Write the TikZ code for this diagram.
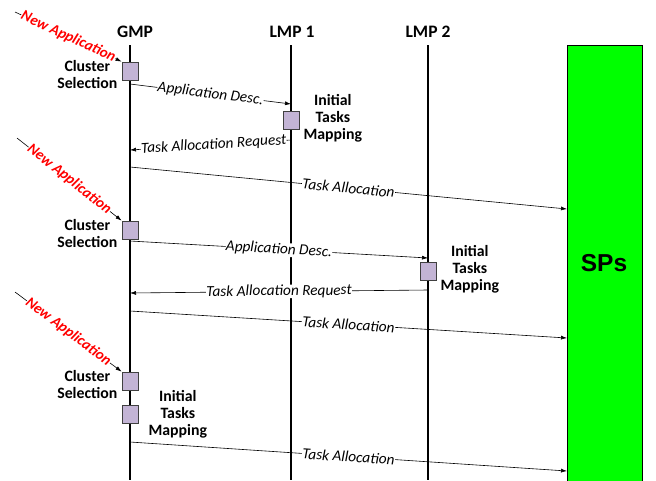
\documentclass[tikz,border=0pt]{standalone}
\usepackage{fontspec}
\setmainfont{Carlito}
\newfontfamily\arialfont{Liberation Sans}
\usetikzlibrary{arrows.meta,positioning}
\definecolor{taskviolet}{HTML}{C3B4D5}
\definecolor{spgreen}{HTML}{00FF00}

\begin{document}
\begin{tikzpicture}[
  x=1pt, y=-1pt,
  head/.style={font=\bfseries\fontsize{17.5}{20}\selectfont},
  life/.style={line width=1.6pt},
  task/.style={draw=black!75, fill=taskviolet, line width=0.8pt,
    minimum width=16pt, minimum height=18pt, inner sep=0pt},
  note/.style={font=\bfseries\fontsize{15.8}{17}\selectfont, align=center, inner sep=1pt},
  msg/.style={-{Latex[length=6pt,width=4pt]}, line width=0.6pt},
  lbl/.style={midway, sloped, fill=white, inner sep=0.3pt,
    font=\itshape\fontsize{15.3}{17}\selectfont},
  newapp/.style={-{Latex[length=6pt,width=4pt]}, line width=0.6pt},
  newlbl/.style={midway, sloped, fill=white, inner sep=0.5pt, text=red,
    font=\bfseries\itshape\fontsize{15}{17}\selectfont}
]
\useasboundingbox (0,0) rectangle (656,480);

% lifelines
\node[head] (gmp) at (135,32) {GMP};
\node[head] (lmp1) at (292,32) {LMP 1};
\node[head] (lmp2) at (428,32) {LMP 2};
\coordinate (g0) at (130,45);
\coordinate (l10) at (291,45);
\coordinate (l20) at (428,45);
\draw[life] (g0) -- (g0 |- 0,480);
\draw[life] (l10) -- (l10 |- 0,480);
\draw[life] (l20) -- (l20 |- 0,480);
\node[draw=black, line width=1pt, fill=spgreen, anchor=north west,
  minimum width=75pt, minimum height=440pt, inner sep=0pt] (sps) at (567,45) {};
\node[font=\arialfont\bfseries\fontsize{24.5}{28}\selectfont] at (604,263) {SPs};

% first application
\node[task] (c1) at (130,71) {};
\node[note, left=3pt of c1, yshift=-4pt] {Cluster\\Selection};
\node[task] (m1) at (291,120) {};
\node[note, right=3pt of m1, yshift=2pt] {Initial\\Tasks\\Mapping};
\coordinate (n1) at (15,12);
\draw[newapp] (n1) -- (c1.north west) node[newlbl] {New Application};
\draw[msg] (g0 |- 0,84) -- (l10 |- 0,104) node[lbl] {Application Desc.};
\draw[msg] (l10 |- 0,140) -- (g0 |- 0,150) node[lbl, pos=0.48] {Task Allocation Request};
\draw[msg] (g0 |- 0,167) -- (sps.west |- 0,209) node[lbl] {Task Allocation};

% second application
\node[task] (c2) at (130,230) {};
\node[note, left=3pt of c2, yshift=-4pt] {Cluster\\Selection};
\node[task] (m2) at (428,271) {};
\node[note, right=3pt of m2, yshift=2pt] {Initial\\Tasks\\Mapping};
\coordinate (n2) at (17,138);
\draw[newapp] (n2) -- (c2.north west) node[newlbl] {New Application};
\draw[msg] (g0 |- 0,241) -- (l20 |- 0,258) node[lbl] {Application Desc.};
\draw[msg] (l20 |- 0,290) -- (g0 |- 0,293) node[lbl] {Task Allocation Request};
\draw[msg] (g0 |- 0,311) -- (sps.west |- 0,338) node[lbl] {Task Allocation};

% third application
\node[task] (c3) at (130,381) {};
\node[note, left=3pt of c3, yshift=-4pt] {Cluster\\Selection};
\node[task] (m3) at (130,414) {};
\node[note, right=9pt of m3] {Initial\\Tasks\\Mapping};
\coordinate (n3) at (15,292);
\draw[newapp] (n3) -- (c3.north west) node[newlbl] {New Application};
\draw[msg] (g0 |- 0,442) -- (sps.west |- 0,471) node[lbl] {Task Allocation};
\end{tikzpicture}
\end{document}
